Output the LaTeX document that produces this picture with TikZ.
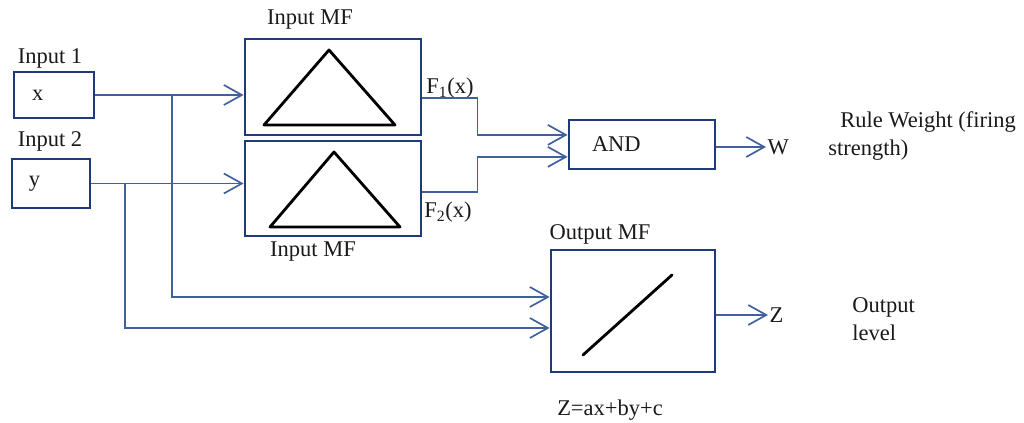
\documentclass[tikz,border=0pt]{standalone}
\usepackage{fontspec}
\setmainfont{LiberationSerif}[Extension=.ttf,UprightFont=*-Regular,BoldFont=*-Bold]
\usetikzlibrary{arrows.meta,positioning}
\definecolor{BoxInk}{HTML}{1F3A78}
\definecolor{WireInk}{HTML}{41609E}
\definecolor{LabelInk}{HTML}{1A1A1A}
\tikzset{
  figure/.style={font=\fontsize{16}{20}\selectfont,text=LabelInk},
  block/.style={draw=BoxInk,line width=2pt,inner sep=0pt,align=left},
  wire/.style={line width=1.2pt,draw=WireInk},
  feed/.style={wire,-{Straight Barb[length=4.5mm,width=5mm]}},
  mfline/.style={draw=black,line width=2pt,line join=round},
}

\begin{document}
\begin{tikzpicture}[figure]
  \useasboundingbox (0,0) rectangle (25.6,10.575);

  % inputs
  \node[block,minimum width=2.0cm,minimum height=1.15cm,text width=1.1cm] (inx) at (1.35,8.2) {x};
  \node[block,minimum width=1.95cm,minimum height=1.225cm,text width=1.1cm] (iny) at (1.275,5.9875) {y};
  \node at (1.25,9.125) {Input 1};
  \node at (1.25,7.05) {Input 2};

  % membership functions
  \node[block,minimum width=4.4cm,minimum height=2.4cm] (mfa) at (8.325,8.4) {};
  \node[block,minimum width=4.4cm,minimum height=2.375cm] (mfb) at (8.325,5.8625) {};
  \node[block,minimum width=4.1cm,minimum height=3.05cm] (mfc) at (15.825,2.8) {};
  \node[block,minimum width=3.65cm,minimum height=1.225cm,text width=2.5cm] (and) at (16.05,6.9625) {AND};
  \draw[mfline,shift={(mfa.center)}] (-1.725,-0.95) -- (-0.1,0.925) -- (1.55,-0.95) -- cycle;
  \draw[mfline,shift={(mfb.center)}] (-1.575,-0.9625) -- (0.025,0.9125) -- (1.675,-0.9625) -- cycle;
  \draw[mfline,line cap=round,shift={(mfc.center)}] (-1.25,-1.1) -- (0.975,0.9);
  \node at (7.75,10.075) {Input MF};
  \node at (7.825,4.275) {Input MF};
  \node at (15.0,4.725) {Output MF};
  \node at (15.25,0.325) {Z=ax+by+c};
  \node at (11.25,8.375) {F\textsubscript{1}(x)};
  \node at (11.2,5.275) {F\textsubscript{2}(x)};

  % outputs
  \node[inner sep=1pt,anchor=west] (w) at (19.15,6.9) {W};
  \node[inner sep=1pt,anchor=west] (z) at (19.2,2.7) {Z};
  \node[anchor=west,align=left,inner sep=0pt] at (20.7,7.175) {\hspace*{0.3cm}Rule Weight (firing\\strength)};
  \node[anchor=west,align=left,inner sep=0pt] at (21.3,2.6) {Output\\level};

  % wiring
  \coordinate (jx) at (4.3,8.2);
  \coordinate (jy) at (3.125,5.9875);
  \draw[feed] (inx.east) -- (inx.east -| mfa.west);
  \draw[feed] (iny.east) -- (iny.east -| mfb.west);
  \draw[feed] (jx) |- ([yshift=0.35cm]mfc.west);
  \draw[feed] (jy) |- ([yshift=-0.425cm]mfc.west);
  \draw[feed] ([yshift=-0.275cm]mfa.east) -- ++(1.375,0) |- ([yshift=0.24cm]and.west);
  \draw[feed] ([yshift=-0.09cm]mfb.east) -- ++(1.375,0) |- ([yshift=-0.31cm]and.west);
  \draw[feed] (and.east |- w) -- (w);
  \draw[feed] (mfc.east |- z) -- (z);
\end{tikzpicture}
\end{document}
